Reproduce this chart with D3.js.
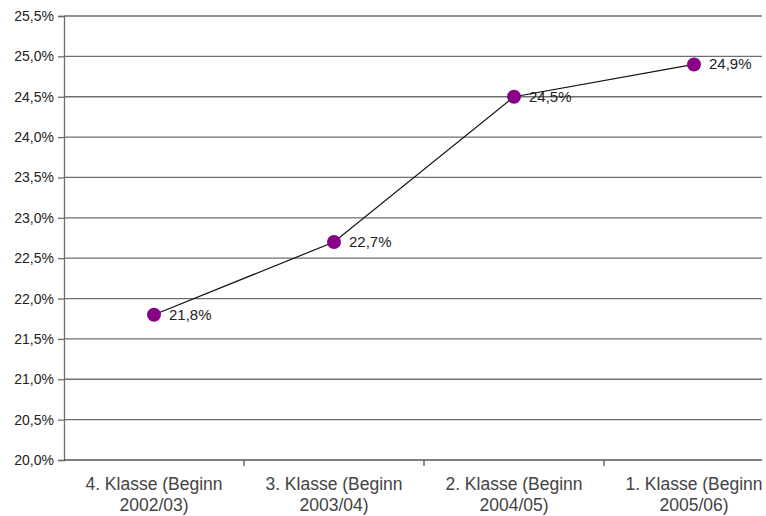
<!DOCTYPE html>
<html><head><meta charset="utf-8">
<script src="https://cdn.jsdelivr.net/npm/d3@7"></script>
<style>body{margin:0;background:#fff}svg{display:block}</style>
</head><body>
<svg id="c" width="766" height="516"></svg>
<script>
const categories = [["4. Klasse (Beginn","2002/03)"],["3. Klasse (Beginn","2003/04)"],["2. Klasse (Beginn","2004/05)"],["1. Klasse (Beginn","2005/06)"]];
const values = [21.8, 22.7, 24.5, 24.9];
const yTicks = [20.0,20.5,21.0,21.5,22.0,22.5,23.0,23.5,24.0,24.5,25.0,25.5];

(function(){
const svg = d3.select("#c");
const mLeft = 64, mRight = 784, mTop = 16, mBottom = 460, clipRight = 762;
const font = "Liberation Sans, Arial, sans-serif";
const fmt = v => v.toFixed(1).replace(".", ",") + "%";

const x = d3.scaleBand().domain(d3.range(categories.length)).range([mLeft, mRight]);
const y = d3.scaleLinear().domain([20, 25.5]).range([mBottom, mTop]);

// gridlines
svg.append("g").selectAll("line").data(yTicks.slice(1)).join("line")
  .attr("x1", mLeft).attr("x2", clipRight)
  .attr("y1", d => y(d)).attr("y2", d => y(d))
  .attr("stroke", "#6e6e6e").attr("stroke-width", 1.3);

// y axis
const ya = svg.append("g").attr("transform", `translate(${mLeft},0)`)
  .call(d3.axisLeft(y).tickValues(yTicks).tickSize(6).tickPadding(4).tickFormat(fmt));
ya.select(".domain").attr("stroke", "#6e6e6e").attr("stroke-width", 1.3);
ya.selectAll(".tick line").attr("stroke", "#6e6e6e").attr("stroke-width", 1.3);
ya.selectAll("text").attr("font-family", font).attr("font-size", 14).attr("fill", "#222");

// x axis
const xg = svg.append("g");
xg.append("line").attr("x1", mLeft).attr("x2", clipRight).attr("y1", mBottom).attr("y2", mBottom)
  .attr("stroke", "#555").attr("stroke-width", 1.3);
const bounds = d3.range(1, categories.length).map(i => x(i));
xg.selectAll("line.t").data(bounds).join("line").attr("class","t")
  .attr("x1", d => d).attr("x2", d => d).attr("y1", mBottom).attr("y2", mBottom + 6)
  .attr("stroke", "#555").attr("stroke-width", 1.3);
const lab = xg.selectAll("text").data(categories).join("text")
  .attr("font-family", font).attr("font-size", 17.5).attr("fill", "#444")
  .attr("text-anchor", "middle");
lab.each(function(d, i){
  const t = d3.select(this);
  d.forEach((s, k) => t.append("tspan").attr("x", x(i) + x.bandwidth()/2)
    .attr("y", 490 + k*21).text(s));
});

// line
const cx = i => x(i) + x.bandwidth()/2;
svg.append("path").datum(values)
  .attr("d", d3.line().x((d,i) => cx(i)).y(d => y(d)))
  .attr("fill", "none").attr("stroke", "#111").attr("stroke-width", 1.2);

svg.append("g").selectAll("circle").data(values).join("circle")
  .attr("cx", (d,i) => cx(i)).attr("cy", d => y(d)).attr("r", 7)
  .attr("fill", "#880088");

svg.append("g").selectAll("text").data(values).join("text")
  .attr("x", (d,i) => cx(i) + 15).attr("y", d => y(d) + 5)
  .attr("font-family", font).attr("font-size", 15).attr("fill", "#222")
  .text(fmt);
})();
</script>
</body></html>
